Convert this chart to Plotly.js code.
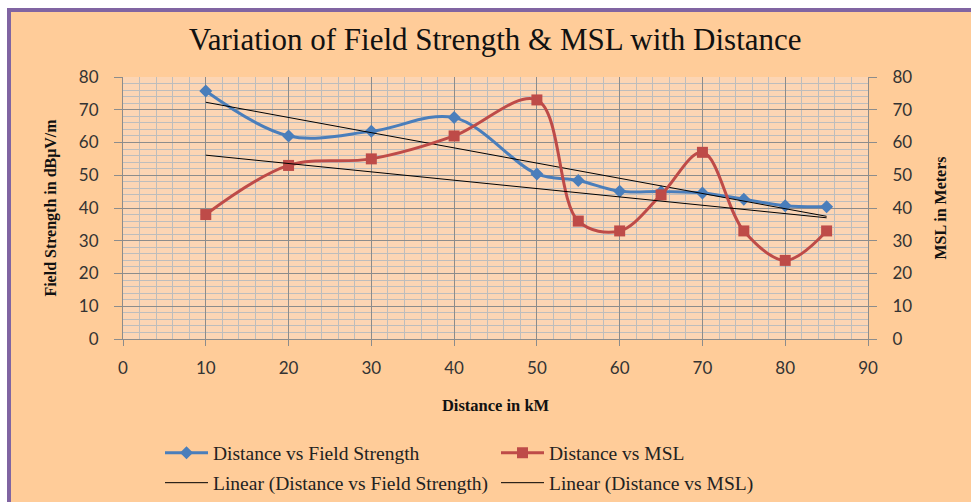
<!DOCTYPE html>
<html>
<head>
<meta charset="utf-8">
<script src="https://cdn.plot.ly/plotly-3.0.1.min.js"></script>
<style>
  html, body { margin: 0; padding: 0; background: #ffffff; }
  #wrap { position: relative; width: 971px; height: 502px; overflow: hidden; }
  #frame { position: absolute; left: 7px; top: 8px; right: 0; bottom: 0;
           background: #FFCC99; border-left: 4px solid #8064A2; border-top: 4px solid #8064A2; }
  #chart { position: absolute; left: 0; top: 0; width: 971px; height: 502px; }
</style>
</head>
<body>
<div id="wrap">
  <div id="frame"></div>
  <div id="chart"></div>
</div>
<script>
// ---- data ----
const distance = [10, 20, 30, 40, 50, 55, 60, 65, 70, 75, 80, 85];
const fieldStrength = [75.7, 62, 63.4, 67.6, 50.4, 48.4, 45.1, 45, 44.6, 42.7, 40.7, 40.4];
const msl = [38, 53, 55, 62, 73, 36, 33, 44, 57, 33, 24, 33];
const xTicks = [0, 10, 20, 30, 40, 50, 60, 70, 80, 90];
const yTicks = [0, 10, 20, 30, 40, 50, 60, 70, 80];

// least-squares linear trend (Excel "Linear" trendline)
function linearFit(xs, ys) {
  const n = xs.length;
  const mx = xs.reduce((a, b) => a + b, 0) / n;
  const my = ys.reduce((a, b) => a + b, 0) / n;
  let sxy = 0, sxx = 0;
  for (let i = 0; i < n; i++) { sxy += (xs[i] - mx) * (ys[i] - my); sxx += (xs[i] - mx) ** 2; }
  const b = sxy / sxx, a = my - b * mx;
  const ex = [xs[0], xs[n - 1]];
  return { x: ex, y: ex.map(v => a + b * v) };
}
const fsTrend = linearFit(distance, fieldStrength);
const mslTrend = linearFit(distance, msl);

const serif = 'Liberation Serif, Times New Roman, serif';
const sans = 'Lato, Carlito, Calibri, sans-serif';

const traces = [
  { x: distance, y: fieldStrength, name: 'Distance vs Field Strength', type: 'scatter', mode: 'lines+markers',
    line: { color: '#4A7EBB', width: 3, shape: 'spline', smoothing: 1 },
    marker: { symbol: 'diamond', size: 10, color: '#4A7EBB' }, legend: 'legend' },
  { x: distance, y: msl, name: 'Distance vs MSL', type: 'scatter', mode: 'lines+markers', yaxis: 'y2',
    line: { color: '#BE4B48', width: 3, shape: 'spline', smoothing: 1 },
    marker: { symbol: 'square', size: 11, color: '#BE4B48' }, legend: 'legend' },
  { x: fsTrend.x, y: fsTrend.y, name: 'Linear (Distance vs Field Strength)', type: 'scatter', mode: 'lines',
    line: { color: '#000000', width: 1 }, legend: 'legend2' },
  { x: mslTrend.x, y: mslTrend.y, name: 'Linear (Distance vs MSL)', type: 'scatter', mode: 'lines', yaxis: 'y2',
    line: { color: '#000000', width: 1 }, legend: 'legend2' }
];

const gridMajor = '#8C8C8C';
const gridMinor = '#BDBDBD';

const layout = {
  width: 971, height: 502,
  paper_bgcolor: 'rgba(0,0,0,0)',
  plot_bgcolor: '#FCD5B4',
  margin: { l: 122.5, r: 103.3, t: 77.3, b: 162.7, pad: 0 },
  showlegend: true,
  title: { text: 'Variation of Field Strength &amp; MSL with Distance',
           font: { family: serif, size: 31, color: '#111111' },
           x: 0.51, xanchor: 'center', y: 1 - 39 / 502, yanchor: 'middle', xref: 'container', yref: 'container' },
  xaxis: {
    range: [0, 90], tickvals: xTicks, ticktext: xTicks.map(String),
    showgrid: true, gridcolor: gridMajor, gridwidth: 1,
    minor: { dtick: 2, tick0: 0, showgrid: true, gridcolor: gridMinor, gridwidth: 1, ticklen: 0 },
    showline: true, linecolor: gridMajor, linewidth: 1,
    ticks: 'outside', ticklen: 6, tickcolor: gridMajor,
    ticklabelstandoff: 8,
    tickfont: { family: sans, size: 17, color: '#333333' },
    zeroline: false, fixedrange: true,
    title: { text: 'Distance in kM', font: { family: serif, size: 16.5, color: '#111111', weight: 'bold' }, standoff: 22 }
  },
  yaxis: {
    range: [0, 80], tickvals: yTicks, ticktext: yTicks.map(String),
    showgrid: true, gridcolor: gridMajor, gridwidth: 1,
    minor: { dtick: 2, tick0: 0, showgrid: true, gridcolor: gridMinor, gridwidth: 1, ticklen: 0 },
    showline: true, linecolor: gridMajor, linewidth: 1,
    ticks: 'outside', ticklen: 8, tickcolor: gridMajor,
    ticklabelstandoff: 12,
    tickfont: { family: sans, size: 17, color: '#333333' },
    zeroline: false, fixedrange: true,
    title: { text: 'Field Strength in dBμV/m', font: { family: serif, size: 16, color: '#111111', weight: 'bold' }, standoff: 18 }
  },
  yaxis2: {
    overlaying: 'y', side: 'right', range: [0, 80], tickvals: yTicks, ticktext: yTicks.map(String),
    showgrid: false, showline: true, linecolor: gridMajor, linewidth: 1,
    ticks: 'outside', ticklen: 8, tickcolor: gridMajor,
    ticklabelstandoff: 12,
    tickfont: { family: sans, size: 17, color: '#333333' },
    zeroline: false, fixedrange: true,
    title: { text: 'MSL in Meters', font: { family: serif, size: 16, color: '#111111', weight: 'bold' }, standoff: 23 }
  },
  legend: {
    orientation: 'h', xref: 'container', yref: 'container',
    x: 160 / 971, xanchor: 'left', y: 1 - 453 / 502, yanchor: 'middle',
    bgcolor: 'rgba(0,0,0,0)', borderwidth: 0, itemwidth: 43,
    entrywidth: 278, entrywidthmode: 'pixels',
    font: { family: serif, size: 19.5, color: '#222222' }, traceorder: 'normal'
  },
  legend2: {
    orientation: 'h', xref: 'container', yref: 'container',
    x: 160 / 971, xanchor: 'left', y: 1 - 483 / 502, yanchor: 'middle',
    bgcolor: 'rgba(0,0,0,0)', borderwidth: 0, itemwidth: 43,
    entrywidth: 278, entrywidthmode: 'pixels',
    font: { family: serif, size: 19.5, color: '#222222' }, traceorder: 'normal'
  }
};

Plotly.newPlot('chart', traces, layout, { displayModeBar: false, staticPlot: true });
</script>
</body>
</html>
